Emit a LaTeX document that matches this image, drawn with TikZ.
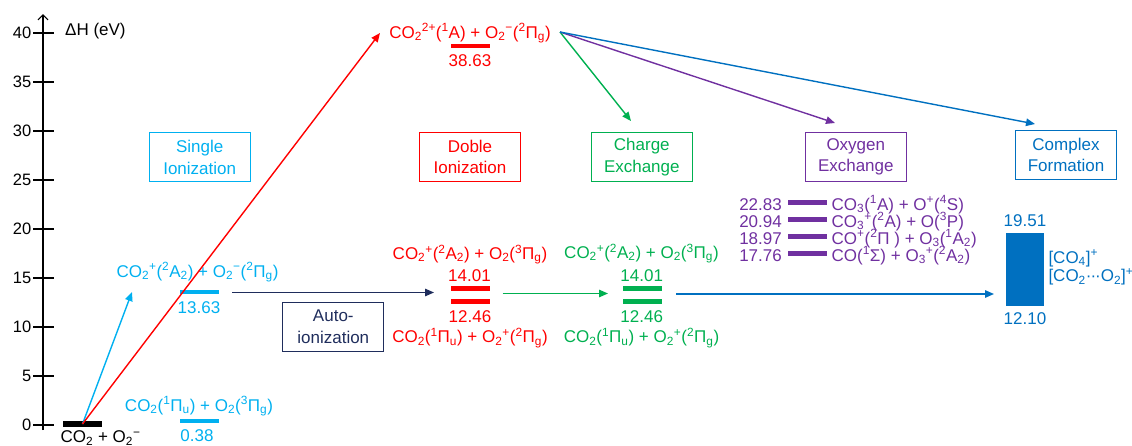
\documentclass[tikz,border=0pt]{standalone}
\usepackage{fontspec}
\setmainfont{Liberation Sans}
\usetikzlibrary{arrows.meta}

\definecolor{sky}{HTML}{00B0F0}
\definecolor{rd}{HTML}{FF0000}
\definecolor{gr}{HTML}{00B050}
\definecolor{pu}{HTML}{7030A0}
\definecolor{bl}{HTML}{0070C0}
\definecolor{nv}{HTML}{1F2D5C}

% scripts do not widen the line boxes, so tightly stacked lines stay tight
\newcommand\supr[1]{\smash{\textsuperscript{#1}}}
\newcommand\subr[1]{\smash{\textsubscript{#1}}}

\tikzset{
  txt/.style={inner sep=0pt, anchor=base, font=\fontsize{17}{20}\selectfont},
  lvl/.style={fill=#1, inner sep=0pt, minimum width=39pt, minimum height=4.8pt},
  proc/.style={draw=#1, text=#1, line width=1pt, inner sep=0pt,
    minimum width=101pt, minimum height=49pt, align=center,
    font=\fontsize{17}{21.5}\selectfont},
  arr/.style={draw=#1, line width=1.4pt, -{Triangle[length=9pt,width=7.5pt]}},
  tick/.style={line width=1.5pt},
  ticklbl/.style={inner sep=0pt, anchor=east, font=\fontsize{16.5}{18}\selectfont},
}

\begin{document}
\begin{tikzpicture}[x=1pt,y=-1pt]
\useasboundingbox (0,0) rectangle (1132,445);
\clip (0,0) rectangle (1132,445);

% energy axis
\coordinate (axb) at (43,430);
\coordinate (axt) at (43,14);
\draw[line width=1.2pt, -{Straight Barb[length=5pt,width=10pt]}] (axb) -- (axt);
\foreach \e in {0,5,...,40}{
  \draw[tick] (33,{425-9.8*\e}) -- (54,{425-9.8*\e});
  \node[ticklbl] (t\e) at (31.5,{425-9.8*\e}) {\e};
}
\node[txt, anchor=base west] (dh) at (65,35) {ΔH (eV)};

% ground state
\node[lvl=black, minimum height=5.5pt] (g0) at (82.5,424) {};
\node[txt, anchor=base west] (g0l) at (60.5,442.5) {CO\subr{2} + O\subr{2}\supr{−}};

% single ionization
\node[lvl=sky] (s1) at (199.5,292) {};
\node[txt, text=sky] (s1u) at (197.5,277) {CO\subr{2}\supr{+}(\supr{2}A\subr{2}) + O\subr{2}\supr{−}(\supr{2}Π\subr{g})};
\node[txt, text=sky] (s1v) at (199,313) {13.63};
\node[lvl=sky] (s0) at (199.5,421) {};
\node[txt, text=sky] (s0u) at (199,411) {CO\subr{2}(\supr{1}Π\subr{u}) + O\subr{2}(\supr{3}Π\subr{g})};
\node[txt, text=sky] (s0v) at (197,441.7) {0.38};
\node[proc=sky] (bsingle) at (199.7,157.2) {Single\\Ionization};

% double ionization
\node[lvl=rd] (d2) at (470,46) {};
\node[txt, text=rd] (d2u) at (470,38) {CO\subr{2}\supr{2+}(\supr{1}A) + O\subr{2}\supr{−}(\supr{2}Π\subr{g})};
\node[txt, text=rd] (d2v) at (470,66) {38.63};
\node[lvl=rd] (da) at (470,288.3) {};
\node[lvl=rd] (db) at (470,301.7) {};
\node[txt, text=rd] (dau) at (470,259.3) {CO\subr{2}\supr{+}(\supr{2}A\subr{2}) + O\subr{2}(\supr{3}Π\subr{g})};
\node[txt, text=rd] (dav) at (469.5,281) {14.01};
\node[txt, text=rd] (dbv) at (470,322.7) {12.46};
\node[txt, text=rd] (dbu) at (470,342.7) {CO\subr{2}(\supr{1}Π\subr{u}) + O\subr{2}\supr{+}(\supr{2}Π\subr{g})};
\node[proc=rd] (bdoble) at (470,157) {Doble\\Ionization};

% charge exchange
\node[lvl=gr] (ca) at (642,288.3) {};
\node[lvl=gr] (cb) at (642,301.7) {};
\node[txt, text=gr] (cau) at (641.5,258.3) {CO\subr{2}\supr{+}(\supr{2}A\subr{2}) + O\subr{2}(\supr{3}Π\subr{g})};
\node[txt, text=gr] (cav) at (641.7,281) {14.01};
\node[txt, text=gr] (cbv) at (641.7,322.7) {12.46};
\node[txt, text=gr] (cbu) at (641.5,342.7) {CO\subr{2}(\supr{1}Π\subr{u}) + O\subr{2}\supr{+}(\supr{2}Π\subr{g})};
\node[proc=gr] (bcharge) at (641.8,157) {Charge\\Exchange};

% oxygen exchange
\node[proc=pu] (boxy) at (855.8,157) {Oxygen\\Exchange};
\node[lvl=pu] (o1) at (807.5,202.5) {};
\node[lvl=pu] (o2) at (807.5,219.5) {};
\node[lvl=pu] (o3) at (807.5,236.5) {};
\node[lvl=pu] (o4) at (807.5,253.5) {};
\node[txt, text=pu, anchor=base east] (o1v) at (782,210) {22.83};
\node[txt, text=pu, anchor=base east] (o2v) at (782,227) {20.94};
\node[txt, text=pu, anchor=base east] (o3v) at (782,244) {18.97};
\node[txt, text=pu, anchor=base east] (o4v) at (782,261) {17.76};
\node[txt, text=pu, anchor=base west] (o1u) at (831.5,210) {CO\subr{3}(\supr{1}A) + O\supr{+}(\supr{4}S)};
\node[txt, text=pu, anchor=base west] (o2u) at (831.5,227) {CO\subr{3}\supr{+}(\supr{2}A) + O(\supr{3}P)};
\node[txt, text=pu, anchor=base west] (o3u) at (831.5,244) {CO\supr{+}(\supr{2}Π ) + O\subr{3}(\supr{1}A\subr{2})};
\node[txt, text=pu, anchor=base west] (o4u) at (831.5,261) {CO(\supr{1}Σ) + O\subr{3}\supr{+}(\supr{2}A\subr{2})};

% complex formation
\node[fill=bl, inner sep=0pt, minimum width=38.6pt, minimum height=72.7pt] (cx) at (1025,269.7) {};
\node[txt, text=bl] (cxt) at (1025,226.7) {19.51};
\node[txt, text=bl] (cxb) at (1025,324) {12.10};
\node[txt, text=bl, anchor=base west] (cx1) at (1048.3,263) {[CO\subr{4}]\supr{+}};
\node[txt, text=bl, anchor=base west] (cx2) at (1048.3,281.7) {[CO\subr{2}·\kern-1pt·\kern-1pt·O\subr{2}]\supr{+}};
\node[proc=bl] (bcomplex) at (1066,154.7) {Complex\\Formation};

% auto-ionization
\node[proc=nv] (bauto) at (333.3,326.7) {Auto-\\ionization};

% transitions
\coordinate (s1tip) at (132,292);
\coordinate (d2tip) at (380,33);
\draw[arr=sky] (g0.center) -- (s1tip);
\draw[arr=rd] (g0.center) -- (d2tip);

\coordinate (nvs) at (232,292.5);
\coordinate (nve) at (434,292.5);
\draw[arr=nv] (nvs) -- (nve);
\coordinate (grs) at (502.5,293.5);
\coordinate (gre) at (608,293.5);
\draw[arr=gr] (grs) -- (gre);
\coordinate (bls) at (676,294);
\coordinate (ble) at (994,294);
\draw[arr=bl] (bls) -- (ble);

\coordinate (fan) at (560,32);
\coordinate (fang) at (631,121);
\coordinate (fanp) at (835,123);
\coordinate (fanb) at (1035,124);
\draw[arr=gr] (fan) -- (fang);
\draw[arr=pu] (fan) -- (fanp);
\draw[arr=bl] (fan) -- (fanb);
\end{tikzpicture}
\end{document}
